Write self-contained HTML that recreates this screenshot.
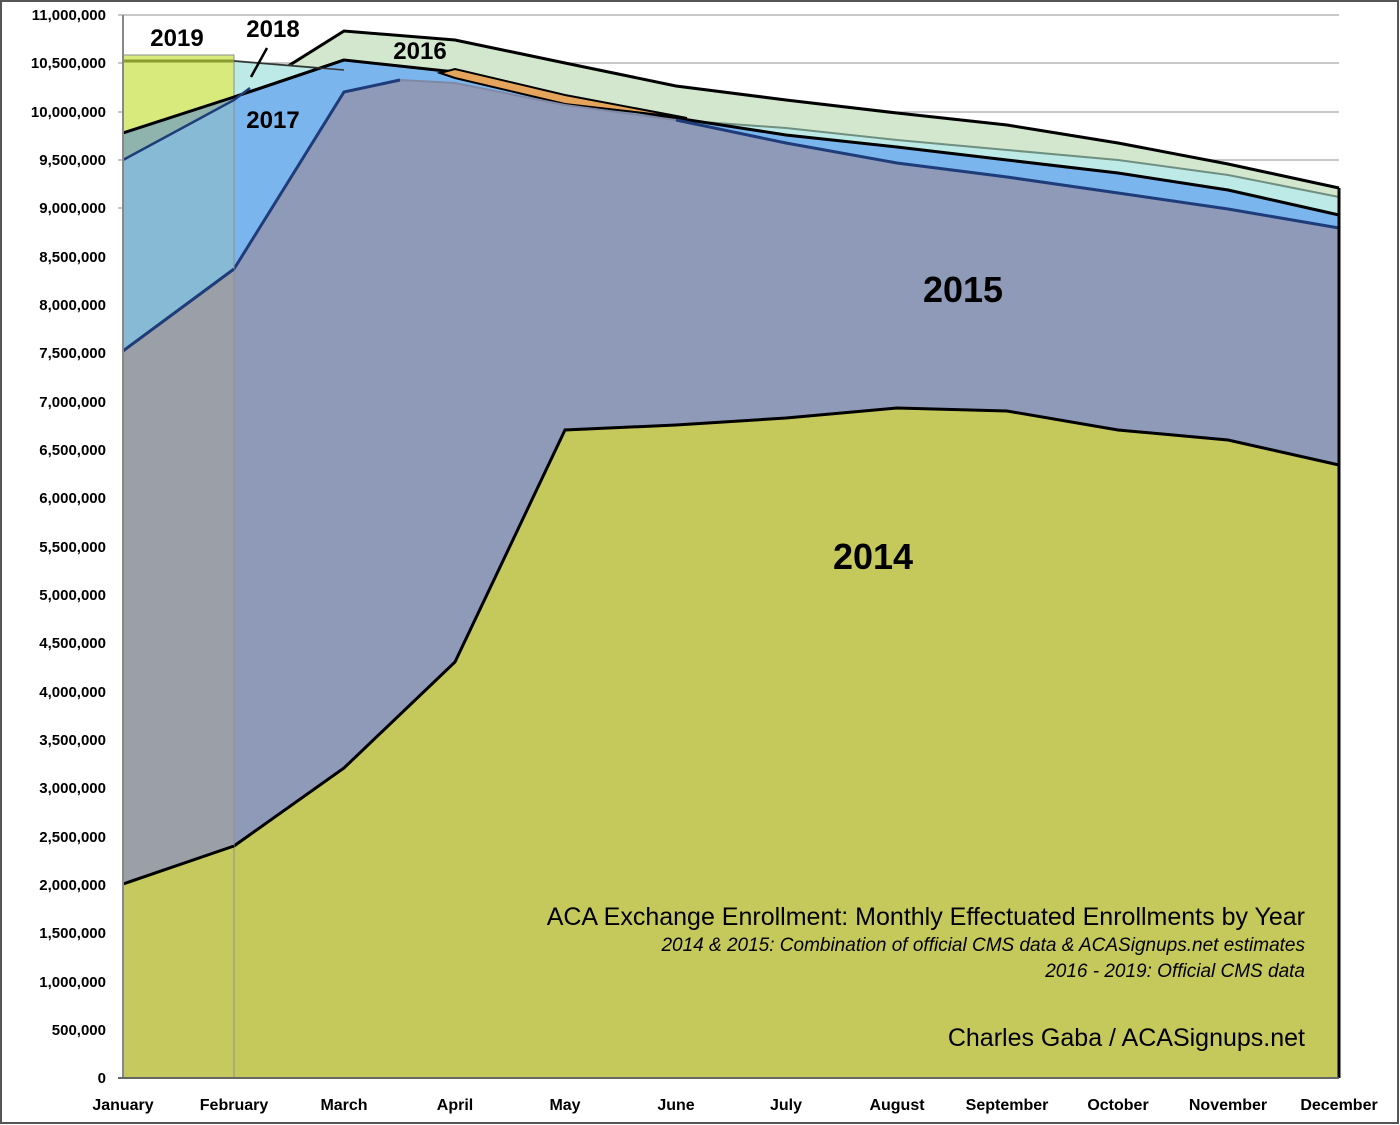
<!DOCTYPE html>
<html><head><meta charset="utf-8"><style>
html,body{margin:0;padding:0;background:#fff}
svg{display:block}
text{font-family:"Liberation Sans",sans-serif}
</style></head><body>
<svg width="1400" height="1125" viewBox="0 0 1400 1125" xmlns="http://www.w3.org/2000/svg">
<rect x="1" y="1" width="1397" height="1122" fill="#fff" stroke="#555" stroke-width="2"/>
<g stroke="#a8a8a8" stroke-width="1.2">
<line x1="118" y1="15" x2="1339" y2="15"/><line x1="118" y1="63" x2="1339" y2="63"/><line x1="118" y1="112" x2="1339" y2="112"/><line x1="118" y1="160" x2="1339" y2="160"/><line x1="118" y1="208" x2="1339" y2="208"/>
</g>
<!-- 2016 green -->
<path d="M234,100 L344,31 L455,40 L565,63 L676,86 L786,100 L897,113 L1007,125 L1118,143 L1228,164 L1339,188 L1339,1078 L234,1078Z" fill="#d3e7cf"/>
<polyline points="234,100 344,31 455,40 565,63 676,86 786,100 897,113 1007,125 1118,143 1228,164 1339,188" fill="none" stroke="#000" stroke-width="3"/>
<!-- 2018 cyan -->
<path d="M234,61 L344,70 L455,83 L565,105 L676,120 L786,128 L897,140 L1007,150 L1118,160 L1228,175 L1339,197 L1339,1078 L234,1078Z" fill="#bdeae6"/>
<polyline points="234,61 344,70 455,83 565,105 676,120 786,128 897,140 1007,150 1118,160 1228,175 1339,197" fill="none" stroke="#6f8f80" stroke-width="2"/>
<!-- 2017 blue -->
<path d="M234,97 L344,60 L455,72 L565,100 L676,118 L786,135 L897,147 L1007,160 L1118,173 L1228,190 L1339,215 L1339,1078 L234,1078Z" fill="#7bb5ee"/>
<polyline points="234,97 344,60 455,72 565,100 676,118 786,135 897,147 1007,160 1118,173 1228,190 1339,215" fill="none" stroke="#000" stroke-width="3"/>
<!-- orange -->
<path d="M440,73 L455,69 L565,95 L687,118 L565,104 L455,78Z" fill="#e5a45c" stroke="#000" stroke-width="2"/>
<!-- 2015 slate -->
<path d="M234,269 L344,92 L400,80 L455,83 L565,105 L676,120 L786,143 L897,163 L1007,177 L1118,193 L1228,209 L1339,228 L1339,1078 L234,1078Z" fill="#8f9ab8"/>
<polyline points="234,269 344,92 400,80" fill="none" stroke="#1f3c7a" stroke-width="3"/>
<polyline points="400,80 455,83 565,105 676,120" fill="none" stroke="#8088a4" stroke-width="2"/>
<polyline points="676,120 786,143 897,163 1007,177 1118,193 1228,209 1339,228" fill="none" stroke="#1f3c7a" stroke-width="3"/>
<!-- 2014 -->
<path d="M123,884 L234,846 L344,768 L455,662 L565,430 L676,425 L786,418 L897,408 L1007,411 L1118,430 L1228,440 L1339,465 L1339,1078 L123,1078Z" fill="#c5c95c"/>
<polyline points="234,846 344,768 455,662 565,430 676,425 786,418 897,408 1007,411 1118,430 1228,440 1339,465" fill="none" stroke="#000" stroke-width="3"/>
<!-- Jan-Feb strip -->
<rect x="123" y="55" width="111" height="1023" fill="#d7ea7b"/>
<path d="M123,133 L234,97 L234,1078 L123,1078Z" fill="#8fb4ad"/>
<path d="M123,160 L234,100 L234,1078 L123,1078Z" fill="#86bad5"/>
<path d="M123,351 L234,269 L234,1078 L123,1078Z" fill="#9a9fa8"/>
<path d="M123,884 L234,846 L234,1078 L123,1078Z" fill="#c6ca5e"/>
<line x1="123" y1="61" x2="234" y2="61" stroke="#8a9a30" stroke-width="3"/>
<rect x="123" y="55" width="111" height="1023" fill="none" stroke="#8a9090" stroke-width="1"/>
<polyline points="123,133 234,97 344,60" fill="none" stroke="#000" stroke-width="3"/>
<polyline points="123,160 234,100 250,88" fill="none" stroke="#1f3c7a" stroke-width="2.5"/>
<polyline points="123,351 234,269" fill="none" stroke="#1f3c7a" stroke-width="3"/>
<polyline points="123,884 234,846" fill="none" stroke="#000" stroke-width="3"/>
<line x1="234" y1="61" x2="344" y2="70" stroke="#333" stroke-width="1.5"/>
<line x1="1339" y1="188" x2="1339" y2="1078" stroke="#000" stroke-width="3"/>
<!-- axes -->
<line x1="123" y1="15" x2="123" y2="1078" stroke="#888" stroke-width="2"/>
<line x1="118" y1="1078" x2="1339" y2="1078" stroke="#666" stroke-width="2"/>
<line x1="267" y1="48" x2="251" y2="77" stroke="#000" stroke-width="2.5"/>
<g font-weight="bold" font-size="24" fill="#000">
<text x="177" y="46" text-anchor="middle">2019</text>
<text x="273" y="37" text-anchor="middle">2018</text>
<text x="420" y="59" text-anchor="middle">2016</text>
<text x="273" y="128" text-anchor="middle">2017</text>
<text x="963" y="302" text-anchor="middle" font-size="36">2015</text>
<text x="873" y="569" text-anchor="middle" font-size="36">2014</text>
</g>
<g font-size="15" font-weight="bold" text-anchor="end" fill="#000">
<text x="106" y="20">11,000,000</text><text x="106" y="68">10,500,000</text><text x="106" y="117">10,000,000</text><text x="106" y="165">9,500,000</text><text x="106" y="213">9,000,000</text><text x="106" y="262">8,500,000</text><text x="106" y="310">8,000,000</text><text x="106" y="358">7,500,000</text><text x="106" y="407">7,000,000</text><text x="106" y="455">6,500,000</text><text x="106" y="503">6,000,000</text><text x="106" y="552">5,500,000</text><text x="106" y="600">5,000,000</text><text x="106" y="648">4,500,000</text><text x="106" y="697">4,000,000</text><text x="106" y="745">3,500,000</text><text x="106" y="793">3,000,000</text><text x="106" y="842">2,500,000</text><text x="106" y="890">2,000,000</text><text x="106" y="938">1,500,000</text><text x="106" y="987">1,000,000</text><text x="106" y="1035">500,000</text><text x="106" y="1083">0</text>
</g>
<g font-size="16" font-weight="bold" text-anchor="middle" fill="#000">
<text x="123" y="1110">January</text><text x="234" y="1110">February</text><text x="344" y="1110">March</text><text x="455" y="1110">April</text><text x="565" y="1110">May</text><text x="676" y="1110">June</text><text x="786" y="1110">July</text><text x="897" y="1110">August</text><text x="1007" y="1110">September</text><text x="1118" y="1110">October</text><text x="1228" y="1110">November</text><text x="1339" y="1110">December</text>
</g>
<g text-anchor="end" fill="#000">
<text x="1305" y="925" font-size="25">ACA Exchange Enrollment: Monthly Effectuated Enrollments by Year</text>
<text x="1305" y="951" font-size="19" font-style="italic">2014 &amp; 2015: Combination of official CMS data &amp; ACASignups.net estimates</text>
<text x="1305" y="977" font-size="19" font-style="italic">2016 - 2019: Official CMS data</text>
<text x="1305" y="1046" font-size="25">Charles Gaba / ACASignups.net</text>
</g>
</svg>
</body></html>
